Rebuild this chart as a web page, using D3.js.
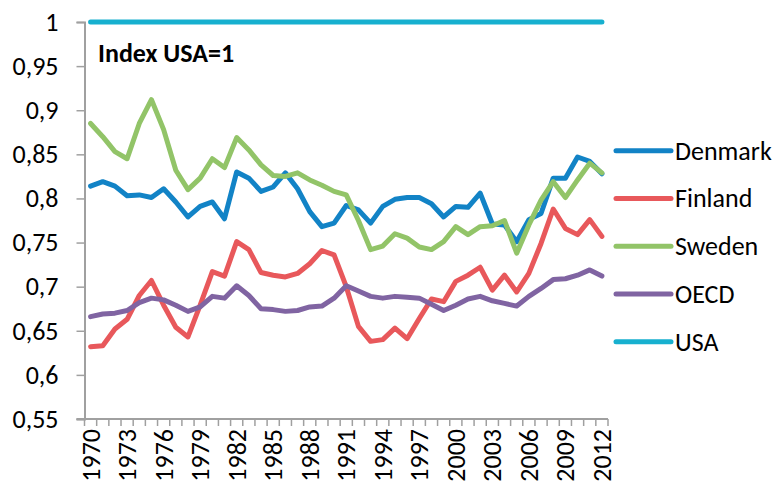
<!DOCTYPE html>
<html>
<head>
<meta charset="utf-8">
<script src="https://cdn.jsdelivr.net/npm/d3@7/dist/d3.min.js"></script>
<style>
  html, body { margin: 0; padding: 0; background: #fff; }
  svg { display: block; font-family: Carlito, Lato, "Open Sans", sans-serif; }
</style>
</head>
<body>
<svg id="chart" width="777" height="491"></svg>
<script>
const years = d3.range(1970, 2013);
const denmark = [0.814,0.819,0.814,0.803,0.804,0.801,0.811,0.796,0.779,0.791,0.796,0.777,0.830,0.823,0.808,0.813,0.829,0.811,0.785,0.768,0.772,0.792,0.787,0.772,0.791,0.799,0.801,0.801,0.794,0.779,0.791,0.790,0.806,0.771,0.770,0.751,0.776,0.783,0.823,0.823,0.847,0.842,0.828];
const finland = [0.632,0.633,0.652,0.663,0.690,0.707,0.679,0.654,0.643,0.679,0.717,0.712,0.751,0.742,0.716,0.713,0.711,0.715,0.726,0.741,0.736,0.700,0.655,0.638,0.640,0.653,0.641,0.664,0.686,0.683,0.706,0.713,0.722,0.696,0.713,0.694,0.715,0.749,0.788,0.766,0.759,0.776,0.757];
const sweden = [0.885,0.870,0.853,0.845,0.885,0.912,0.878,0.832,0.810,0.823,0.845,0.835,0.869,0.855,0.838,0.826,0.825,0.829,0.821,0.815,0.808,0.804,0.775,0.742,0.746,0.760,0.755,0.745,0.742,0.751,0.768,0.759,0.768,0.769,0.775,0.738,0.770,0.798,0.819,0.801,0.821,0.840,0.829];
const oecd = [0.666,0.669,0.670,0.673,0.682,0.687,0.685,0.679,0.672,0.677,0.689,0.687,0.701,0.690,0.675,0.674,0.672,0.673,0.677,0.678,0.687,0.701,0.695,0.689,0.687,0.689,0.688,0.687,0.680,0.673,0.679,0.686,0.689,0.684,0.681,0.678,0.689,0.698,0.708,0.709,0.713,0.719,0.712];
const usa = years.map(() => 1);
const seriesNames = ["Denmark", "Finland", "Sweden", "OECD", "USA"];
const seriesColors = ["#1283C6", "#E8585B", "#92C468", "#8064A2", "#17B0CF"];
const yTicks = [0.55, 0.6, 0.65, 0.7, 0.75, 0.8, 0.85, 0.9, 0.95, 1];
const xLabelYears = d3.range(1970, 2013, 3);
const title = "Index USA=1";

const allSeries = [denmark, finland, sweden, oecd, usa];

const svg = d3.select("#chart");
const pLeft = 84.5, pRight = 608, pTop = 22, pBottom = 419;

const x = d3.scaleBand().domain(years).range([pLeft, pRight]).padding(0);
const xc = d => x(d) + x.bandwidth() / 2;
const y = d3.scaleLinear().domain([0.55, 1]).range([pBottom, pTop]);

const axisColor = "#A0A0A0";
const fmt = v => d3.format(".2~f")(v).replace(".", ",");

// Y axis
const yAxis = d3.axisLeft(y).tickValues(yTicks).tickSize(8).tickPadding(18).tickFormat(fmt);
const gy = svg.append("g").attr("transform", `translate(${pLeft},0)`).call(yAxis);
gy.select(".domain").attr("stroke", axisColor).attr("stroke-width", 2);
gy.selectAll(".tick line").attr("stroke", axisColor).attr("stroke-width", 1.5);
gy.selectAll(".tick text").attr("fill", "#000").style("font-size", "26px")
  .style("font-family", "Carlito, Lato, sans-serif");

// X axis line and ticks at category boundaries
const gx = svg.append("g");
gx.append("line").attr("x1", pLeft - 8).attr("x2", pRight).attr("y1", pBottom).attr("y2", pBottom)
  .attr("stroke", axisColor).attr("stroke-width", 2);
const boundaries = years.map(d => x(d)).concat([pRight]);
gx.selectAll("line.tk").data(boundaries).join("line").attr("class", "tk")
  .attr("x1", d => d).attr("x2", d => d).attr("y1", pBottom).attr("y2", pBottom + 7)
  .attr("stroke", axisColor).attr("stroke-width", 1.5);
gx.selectAll("text").data(xLabelYears).join("text")
  .attr("transform", d => `translate(${xc(d)},${pBottom + 10}) rotate(-90)`)
  .attr("text-anchor", "end").attr("dominant-baseline", "central")
  .style("font-size", "26px").attr("fill", "#000")
  .text(d => d);

// Lines
const line = d3.line().x((d, i) => xc(years[i])).y(d => y(d));
svg.append("g").selectAll("path").data(allSeries).join("path")
  .attr("d", d => line(d)).attr("fill", "none")
  .attr("stroke", (d, i) => seriesColors[i]).attr("stroke-width", 5)
  .attr("stroke-linejoin", "round").attr("stroke-linecap", "round");

// Title
svg.append("text").attr("x", 98).attr("y", 62).attr("font-weight", "bold")
  .style("font-size", "26px").attr("fill", "#000").text(title);

// Legend
const legY = d3.scalePoint().domain(seriesNames).range([150.7, 341.7]);
const leg = svg.append("g").selectAll("g").data(seriesNames).join("g")
  .attr("transform", d => `translate(616,${legY(d)})`);
leg.append("line").attr("x1", 0).attr("x2", 55).attr("y1", 0).attr("y2", 0)
  .attr("stroke", (d, i) => seriesColors[i]).attr("stroke-width", 5).attr("stroke-linecap", "round");
leg.append("text").attr("x", 59).attr("y", 0).attr("dominant-baseline", "central")
  .style("font-size", "26px").attr("fill", "#000").text(d => d);
</script>
</body>
</html>
